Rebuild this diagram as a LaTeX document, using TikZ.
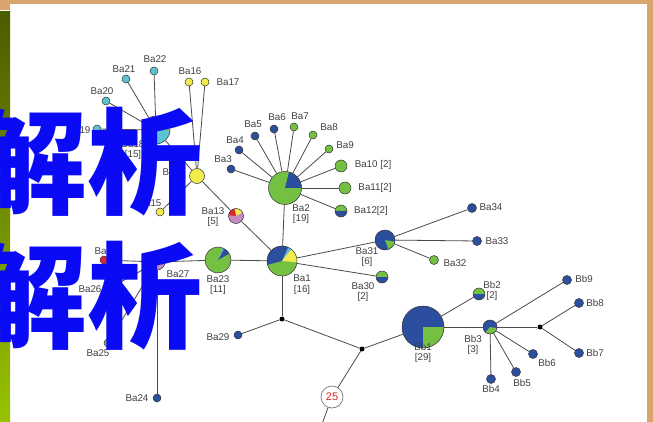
\documentclass[tikz,border=0pt]{standalone}
\usepackage{fontspec}
\setsansfont{Liberation Sans}
\newfontfamily\cjk{Noto Sans CJK SC}
\pgfdeclarelayer{bg}
\pgfsetlayers{bg,main}
\definecolor{hblue}{HTML}{2B4F9E}
\definecolor{hgreen}{HTML}{74C043}
\definecolor{hyellow}{HTML}{F2EC4E}
\definecolor{hcyan}{HTML}{5CC3D3}
\definecolor{hred}{HTML}{E0262A}
\definecolor{hpurple}{HTML}{C58CC4}
\definecolor{hlblue}{HTML}{62B7E6}
\definecolor{tanc}{HTML}{D9A46E}
\definecolor{olivetop}{HTML}{4C5C00}
\definecolor{olivebot}{HTML}{98C200}
\definecolor{edgec}{HTML}{4A4A4A}
\definecolor{cjkblue}{HTML}{0A0AF5}
\newcommand\wdg[3]{\fill[#1] (path picture bounding box.center) -- ++(#2:40) arc[start angle=#2, end angle=#3, radius=40] -- cycle;}
\tikzset{
 hap/.style={circle, draw=black!80, line width=0.5pt, inner sep=0pt, minimum size=8pt},
 md/.style={hap, minimum size=12pt},
 jn/.style={circle, fill=black, inner sep=0pt, minimum size=5pt},
 lbl/.style={font=\sffamily\fontsize{9.8}{10.8}\selectfont, text=black!75, inner sep=0pt, align=center},
 edge/.style={draw=edgec, line width=0.8pt},
 half/.style={path picture={\wdg{hgreen}{0}{180}\wdg{hblue}{180}{360}}},
}
\begin{document}
\begin{tikzpicture}[x=1pt,y=1pt]
\useasboundingbox (0,0) rectangle (653,-422);
\begin{pgfonlayer}{bg}
\fill[white] (0,0) rectangle (653,-422);
\fill[tanc] (0,0) rectangle (653,-4);
\fill[tanc] (647,0) rectangle (653,-422);
\fill[tanc] (0,0) rectangle (10,-10);
\shade[top color=olivetop, bottom color=olivebot] (0,-12) rectangle (10,-422);
\end{pgfonlayer}

% Ba2 star
\node[hap, minimum size=33pt, fill=hgreen, path picture={\wdg{hblue}{0}{76}}] (ba2) at (285,-188) {};
\node[hap, fill=hblue] (ba3) at (231,-169) {};
\node[hap, fill=hblue] (ba4) at (239,-150) {};
\node[hap, fill=hblue] (ba5) at (255,-136) {};
\node[hap, fill=hblue] (ba6) at (274,-129) {};
\node[hap, fill=hgreen] (ba7) at (294,-127) {};
\node[hap, fill=hgreen] (ba8) at (313,-135) {};
\node[hap, fill=hgreen] (ba9) at (329,-149) {};
\node[md, fill=hgreen] (ba10) at (341,-166) {};
\node[md, fill=hgreen] (ba11) at (345,-188) {};
\node[md, half] (ba12) at (341,-211) {};
% Ba1
\node[hap, minimum size=30pt, fill=hgreen, path picture={\wdg{hblue}{65}{195}\wdg{hlblue}{52}{65}\wdg{hyellow}{-5}{52}}] (ba1) at (282,-261) {};
\node[hap, minimum size=15pt, fill=hpurple, path picture={\wdg{hyellow}{30}{102}\wdg{hred}{102}{174}}] (ba13) at (236,-216) {};
\node[hap, minimum size=15pt, fill=hyellow] (ba14) at (197,-176) {};
\node[hap, fill=hyellow] (ba15) at (160,-212) {};
\node[hap, fill=hyellow] (ba16) at (189,-82) {};
\node[hap, fill=hyellow] (ba17) at (205,-82) {};
\node[hap, minimum size=28pt, fill=hcyan, path picture={\wdg{hgreen}{-2}{4}\wdg{hyellow}{4}{24}}] (ba18) at (156,-130) {};
\node[hap, fill=hcyan] (ba19) at (97,-129) {};
\node[hap, fill=hcyan] (ba20) at (106,-101) {};
\node[hap, fill=hcyan] (ba21) at (126,-79) {};
\node[hap, fill=hcyan] (ba22) at (154,-71) {};
\node[hap, minimum size=26pt, fill=hgreen, path picture={\wdg{hblue}{30}{62}\wdg{hlblue}{62}{68}}] (ba23) at (218,-260) {};
\node[hap, minimum size=16pt, fill=hpurple, path picture={\wdg{hyellow}{30}{180}}] (ba27) at (157,-262) {};
\node[hap, fill=hred] (ba28) at (104,-260) {};
\node[hap, fill=hgreen] (ba26) at (108,-289) {};
\node[hap, fill=hgreen] (ba25) at (108,-343) {};
\node[hap, fill=hblue] (ba24) at (157,-398) {};
\node[hap, fill=hblue] (ba29) at (238,-335) {};
\node[md, half] (ba30) at (382,-277) {};
\node[hap, minimum size=20pt, fill=hblue, path picture={\wdg{hgreen}{-70}{-10}}] (ba31) at (385,-240) {};
\node[hap, minimum size=9pt, fill=hgreen] (ba32) at (434,-260) {};
\node[hap, minimum size=9pt, fill=hblue] (ba33) at (477,-241) {};
\node[hap, minimum size=9pt, fill=hblue] (ba34) at (472,-208) {};
% junctions
\node[jn] (jl) at (282,-319) {};
\node[jn] (jm) at (362,-349) {};
\node[jn] (jr) at (540,-327) {};
\node[circle, draw=black!60, fill=white, line width=0.6pt, minimum size=22pt, inner sep=0pt, text=hred, font=\sffamily\fontsize{11}{11}\selectfont] (n25) at (332,-397) {25};
\coordinate (bot) at (322,-424);
% Bb
\node[hap, minimum size=42pt, fill=hblue, path picture={\wdg{hgreen}{-90}{0}}] (bb1) at (423,-327) {};
\node[md, half] (bb2) at (479,-294) {};
\node[hap, minimum size=14pt, fill=hblue, path picture={\wdg{hgreen}{-130}{-10}}] (bb3) at (490,-327) {};
\node[hap, minimum size=9pt, fill=hblue] (bb4) at (491,-379) {};
\node[hap, minimum size=9pt, fill=hblue] (bb5) at (516,-372) {};
\node[hap, minimum size=9pt, fill=hblue] (bb6) at (533,-354) {};
\node[hap, minimum size=9pt, fill=hblue] (bb7) at (579,-353) {};
\node[hap, minimum size=9pt, fill=hblue] (bb8) at (579,-303) {};
\node[hap, minimum size=9pt, fill=hblue] (bb9) at (567,-280) {};

\begin{pgfonlayer}{bg}
\foreach \a/\b in {ba1/ba2, ba1/jl, jl/ba29, jl/jm, jm/bb1, jm/n25, n25/bot, bb1/bb2, bb1/bb3, bb3/bb9, bb3/jr, jr/bb8, jr/bb7, bb3/bb6, bb3/bb5, bb3/bb4, ba1/ba31, ba1/ba30, ba31/ba34, ba31/ba33, ba31/ba32, ba1/ba23, ba1/ba13, ba13/ba14, ba14/ba18, ba14/ba16, ba14/ba17, ba14/ba15, ba18/ba19, ba18/ba20, ba18/ba21, ba18/ba22, ba2/ba3, ba2/ba4, ba2/ba5, ba2/ba6, ba2/ba7, ba2/ba8, ba2/ba9, ba2/ba10, ba2/ba11, ba2/ba12, ba23/ba27, ba27/ba28, ba27/ba26, ba27/ba25, ba27/ba24}
  \draw[edge] (\a) -- (\b);
\end{pgfonlayer}

% labels
\node[lbl] (l22) at (155,-59) {Ba22};
\node[lbl] (l21) at (124,-69) {Ba21};
\node[lbl] (l20) at (102,-91) {Ba20};
\node[lbl] (l19) at (79,-130) {Ba19};
\node[lbl] (l18) at (133,-150) {Ba18\\{[15]}};
\node[lbl] (l16) at (190,-71) {Ba16};
\node[lbl] (l17) at (228,-82) {Ba17};
\node[lbl] (l14) at (174,-179) {Ba14\\{[2]}};
\node[lbl] (l15) at (150,-203) {Ba15};
\node[lbl] (l13) at (213,-217) {Ba13\\{[5]}};
\node[lbl] (l3) at (223,-159) {Ba3};
\node[lbl] (l4) at (235,-140) {Ba4};
\node[lbl] (l5) at (253,-124) {Ba5};
\node[lbl] (l6) at (277,-117) {Ba6};
\node[lbl] (l7) at (300,-116) {Ba7};
\node[lbl] (l8) at (329,-127) {Ba8};
\node[lbl] (l9) at (345,-145) {Ba9};
\node[lbl] (l10) at (373,-165) {Ba10 [2]};
\node[lbl] (l11) at (375,-188) {Ba11[2]};
\node[lbl] (l12) at (371,-211) {Ba12[2]};
\node[lbl] (l2) at (301,-214) {Ba2\\{[19]}};
\node[lbl] (l1) at (302,-285) {Ba1\\{[16]}};
\node[lbl] (l23) at (218,-285) {Ba23\\{[11]}};
\node[lbl] (l31) at (367,-257) {Ba31\\{[6]}};
\node[lbl] (l30) at (363,-292) {Ba30\\{[2]}};
\node[lbl] (l34) at (491,-207) {Ba34};
\node[lbl] (l33) at (497,-241) {Ba33};
\node[lbl] (l32) at (455,-263) {Ba32};
\node[lbl] (lb2) at (492,-291) {Bb2\\{[2]}};
\node[lbl] (lb1) at (423,-353) {Bb1\\{[29]}};
\node[lbl] (lb3) at (473,-345) {Bb3\\{[3]}};
\node[lbl] (lb9) at (584,-279) {Bb9};
\node[lbl] (lb8) at (595,-303) {Bb8};
\node[lbl] (lb7) at (595,-353) {Bb7};
\node[lbl] (lb6) at (547,-363) {Bb6};
\node[lbl] (lb5) at (522,-383) {Bb5};
\node[lbl] (lb4) at (491,-389) {Bb4};
\node[lbl] (l29) at (218,-337) {Ba29};
\node[lbl] (l28) at (106,-251) {Ba28};
\node[lbl] (l27) at (178,-280) {Ba27\\{[2]}};
\node[lbl] (l26) at (90,-289) {Ba26};
\node[lbl] (l25) at (98,-353) {Ba25};
\node[lbl] (l24) at (137,-398) {Ba24};

% overlay text
\node[font=\cjk\bfseries\fontsize{115}{115}\selectfont, text=cjkblue, anchor=base west, inner sep=0pt] (t1) at (-28,-205) {解析};
\node[font=\cjk\bfseries\fontsize{115}{115}\selectfont, text=cjkblue, anchor=base west, inner sep=0pt] (t2) at (-28,-339) {解析};
\end{tikzpicture}
\end{document}
